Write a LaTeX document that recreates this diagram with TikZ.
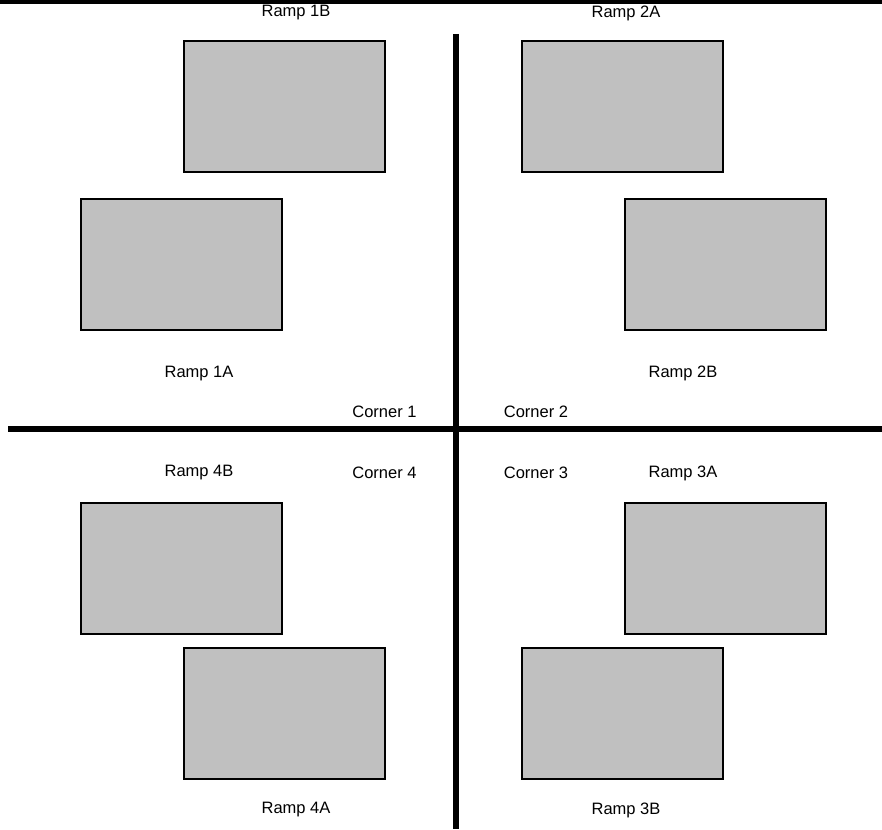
\documentclass[tikz,border=0pt]{standalone}
\usepackage{fontspec}
\setmainfont{Liberation Sans}
\begin{document}
\begin{tikzpicture}[x=1pt,y=-1pt,
  rampbox/.style={draw=black,line width=2pt,fill={rgb,255:red,192;green,192;blue,192},
    minimum width=201pt,minimum height=131pt,inner sep=0pt,outer sep=0pt},
  lbl/.style={font=\fontsize{16.5}{19}\selectfont,inner sep=0pt,anchor=center},
  wall/.style={line width=6pt,black}]
\useasboundingbox (0,0) rectangle (882,829);
% walls
\draw[line width=4.5pt] (0,2) -- (882,2);
\draw[wall] (8,429) -- (882,429);
\draw[wall] (456,34) -- (456,829);
% ramps
\node[rampbox] (r1b) at (284,106.5) {};
\node[rampbox] (r2a) at (622,106.5) {};
\node[rampbox] (r1a) at (181.5,264.5) {};
\node[rampbox] (r2b) at (725.5,264.5) {};
\node[rampbox] (r4b) at (181.5,568) {};
\node[rampbox] (r3a) at (725.5,568) {};
\node[rampbox] (r4a) at (284,713.5) {};
\node[rampbox] (r3b) at (622,713.5) {};
% labels
\node[lbl] (t1b) at (296,13) {Ramp 1B};
\node[lbl] (t2a) at (626,13) {Ramp 2A};
\node[lbl] (t1a) at (199,374) {Ramp 1A};
\node[lbl] (t2b) at (683,373) {Ramp 2B};
\node[lbl] (c1) at (384.5,412) {Corner 1};
\node[lbl] (c2) at (536,412) {Corner 2};
\node[lbl] (t4b) at (199,473) {Ramp 4B};
\node[lbl] (c4) at (384.5,473) {Corner 4};
\node[lbl] (c3) at (536,473) {Corner 3};
\node[lbl] (t3a) at (683,473) {Ramp 3A};
\node[lbl] (t4a) at (296,810) {Ramp 4A};
\node[lbl] (t3b) at (626,810) {Ramp 3B};
\end{tikzpicture}
\end{document}
